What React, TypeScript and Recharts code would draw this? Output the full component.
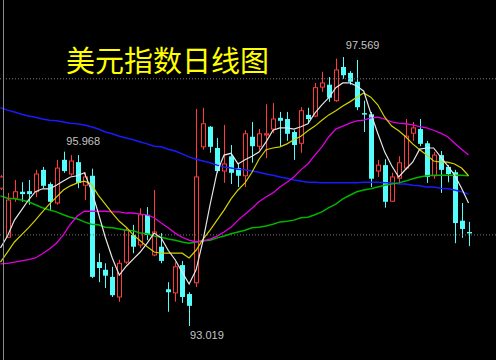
import React from 'react';
import { ComposedChart, Bar, Line, XAxis, YAxis, ReferenceLine, ReferenceDot } from 'recharts';

// trading days shown, -1 is the half-cut candle on the left edge, the last 4 are empty room
const days = Array.from({ length: 72 }, (_, i) => i - 1);

const opens = [
  95.35, 94.52, 95.18, 95.29, 95.30, 95.29, 95.66, 95.42, 95.10, 95.83, 95.59, 95.79, 95.40, 95.56,
  94.10, 93.97, 93.85, 93.51, 94.10, 94.56, 94.39, 94.90, 94.22, 94.36, 93.64, 93.58, 94.05, 93.56,
  93.75, 96.05, 96.39, 96.03, 95.64, 95.89, 95.69, 95.56, 96.22, 96.06, 96.25, 96.35, 96.54, 96.52,
  96.30, 96.11, 96.59, 96.57, 97.06, 97.10, 96.83, 97.40, 97.30, 97.15, 96.62, 96.60, 95.64, 95.74,
  95.13, 95.52, 95.69, 96.28, 96.35, 96.11, 95.56, 95.91, 95.71, 95.62, 94.80, 94.61,
];
const highs = [
  95.57, 95.27, 95.49, 95.45, 95.49, 95.66, 95.71, 95.45, 95.83, 95.968, 95.91, 95.91, 95.62, 95.68,
  94.25, 94.08, 94.02, 94.14, 94.69, 94.73, 95.01, 95.03, 95.32, 94.59, 93.76, 94.10, 94.12, 93.59,
  96.69, 96.71, 96.40, 96.20, 96.42, 96.08, 95.78, 96.33, 96.47, 96.35, 96.77, 96.79, 96.64, 96.64,
  96.33, 96.72, 96.71, 97.13, 97.32, 97.23, 97.54, 97.569, 97.33, 97.52, 96.83, 96.64, 95.83, 95.84,
  95.61, 95.89, 96.52, 96.47, 96.52, 96.15, 95.96, 95.98, 95.74, 95.66, 95.10, 94.78,
];
const lows = [
  95.32, 94.51, 95.12, 95.12, 95.07, 95.20, 95.35, 94.98, 95.07, 95.61, 95.56, 95.35, 95.15, 93.83,
  93.76, 93.66, 93.51, 93.43, 94.07, 94.25, 94.34, 94.47, 94.20, 94.08, 93.26, 93.43, 93.41, 93.019,
  93.68, 96.00, 95.95, 95.61, 95.44, 95.42, 95.37, 95.37, 95.78, 96.00, 95.86, 96.28, 96.06, 96.15,
  95.83, 95.95, 96.44, 96.55, 96.98, 96.81, 96.81, 97.20, 97.10, 96.67, 96.30, 95.37, 95.54, 95.02,
  95.12, 95.42, 95.66, 96.15, 96.06, 95.44, 95.51, 95.27, 95.45, 94.42, 94.51, 94.37,
];
const closes = [
  95.54, 95.15, 95.29, 95.25, 95.25, 95.59, 95.39, 95.12, 95.69, 95.64, 95.81, 95.44, 95.54, 93.85,
  94.00, 93.87, 93.54, 94.08, 94.64, 94.36, 94.90, 94.56, 94.61, 94.12, 93.59, 94.02, 93.51, 93.36,
  95.54, 96.44, 96.05, 95.64, 95.76, 95.61, 95.56, 96.27, 96.06, 96.27, 96.27, 96.52, 96.49, 96.27,
  96.08, 96.66, 96.52, 97.05, 97.13, 96.88, 97.35, 97.26, 97.15, 96.72, 96.60, 95.51, 95.74, 95.12,
  95.54, 95.78, 96.23, 96.37, 96.10, 95.54, 95.91, 95.66, 95.59, 94.76, 94.66, 94.59,
];

// moving averages
const ma5 = [
  94.34, 94.54, 94.81, 94.98, 95.15, 95.29, 95.34, 95.34, 95.40, 95.47, 95.54, 95.56, 95.61, 95.32,
  94.93, 94.52, 94.17, 93.88, 94.03, 94.15, 94.27, 94.42, 94.59, 94.51, 94.30, 94.14, 93.93, 93.73,
  93.97, 94.47, 95.07, 95.62, 95.91, 95.94, 95.76, 95.83, 95.89, 95.96, 96.13, 96.33, 96.37, 96.37,
  96.35, 96.39, 96.44, 96.62, 96.76, 96.88, 97.05, 97.13, 97.13, 97.08, 96.99, 96.62, 96.28, 95.96,
  95.73, 95.54, 95.67, 95.79, 96.01, 96.03, 96.03, 95.88, 95.73, 95.57, 95.35, 95.10,
];
const ma10 = [
  94.10, 94.27, 94.44, 94.56, 94.68, 94.81, 94.95, 95.08, 95.20, 95.32, 95.39, 95.44, 95.47, 95.42,
  95.23, 95.08, 94.93, 94.79, 94.69, 94.56, 94.46, 94.36, 94.27, 94.25, 94.25, 94.25, 94.25, 94.17,
  94.30, 94.49, 94.64, 94.81, 94.98, 95.17, 95.32, 95.44, 95.62, 95.84, 96.00, 96.03, 96.05, 96.10,
  96.17, 96.23, 96.32, 96.40, 96.50, 96.59, 96.66, 96.74, 96.81, 96.89, 96.96, 96.89, 96.76, 96.55,
  96.40, 96.32, 96.22, 96.10, 96.00, 95.91, 95.81, 95.79, 95.79, 95.76, 95.69, 95.56,
];
const ma20 = [
  94.07, 94.08, 94.10, 94.12, 94.14, 94.17, 94.24, 94.32, 94.42, 94.56, 94.74, 94.88, 94.96, 94.96,
  94.96, 94.96, 94.95, 94.95, 94.93, 94.93, 94.91, 94.90, 94.85, 94.76, 94.68, 94.59, 94.52, 94.47,
  94.44, 94.46, 94.49, 94.54, 94.61, 94.69, 94.81, 94.91, 95.01, 95.12, 95.20, 95.27, 95.37, 95.45,
  95.54, 95.66, 95.76, 95.91, 96.05, 96.22, 96.35, 96.40, 96.45, 96.49, 96.50, 96.54, 96.55, 96.52,
  96.47, 96.45, 96.44, 96.42, 96.39, 96.37, 96.33, 96.28, 96.22, 96.11, 96.01, 95.91,
];
const ma60 = [
  95.22, 95.18, 95.17, 95.15, 95.12, 95.07, 95.02, 94.98, 94.95, 94.90, 94.86, 94.83, 94.78, 94.74,
  94.73, 94.69, 94.68, 94.66, 94.64, 94.63, 94.59, 94.58, 94.54, 94.52, 94.49, 94.47, 94.44, 94.42,
  94.44, 94.46, 94.47, 94.51, 94.54, 94.58, 94.61, 94.64, 94.68, 94.69, 94.71, 94.74, 94.78, 94.79,
  94.81, 94.85, 94.86, 94.90, 94.95, 95.02, 95.08, 95.17, 95.23, 95.29, 95.32, 95.34, 95.37, 95.40,
  95.42, 95.44, 95.47, 95.51, 95.54, 95.56, 95.57, 95.57, 95.57, 95.57, 95.57, 95.56,
];
const ma120 = [
  96.71, 96.67, 96.64, 96.60, 96.57, 96.55, 96.52, 96.50, 96.49, 96.47, 96.45, 96.44, 96.42, 96.39,
  96.35, 96.30, 96.27, 96.23, 96.20, 96.17, 96.13, 96.10, 96.06, 96.05, 96.01, 95.98, 95.93, 95.88,
  95.84, 95.81, 95.78, 95.74, 95.71, 95.69, 95.67, 95.66, 95.64, 95.62, 95.59, 95.57, 95.54, 95.52,
  95.49, 95.47, 95.45, 95.45, 95.44, 95.44, 95.44, 95.44, 95.44, 95.44, 95.45, 95.45, 95.45, 95.44,
  95.44, 95.42, 95.42, 95.40, 95.39, 95.37, 95.37, 95.35, 95.34, 95.32, 95.29, 95.25,
];

const rows = days.map((day, i) => ({
  day,
  open: opens[i],
  high: highs[i],
  low: lows[i],
  close: closes[i],
  ma5: ma5[i],
  ma10: ma10[i],
  ma20: ma20[i],
  ma60: ma60[i],
  ma120: ma120[i],
}));

const UP = '#ff3b3b';
const DOWN = '#54fcfc';

const Candle = (props: any) => {
  const { x, y, width, height, payload } = props;
  if (!payload || payload.open == null) return null;
  const { open, close, high, low } = payload;
  const top = Math.min(y, y + height);
  const h = Math.abs(height);
  const k = h / (high - low);
  const c = Math.round(x + width / 2);
  const bodyTop = top + (high - Math.max(open, close)) * k;
  const bodyBot = top + (high - Math.min(open, close)) * k;
  const up = close >= open;
  const col = up ? UP : DOWN;
  if (up) {
    return (
      <g>
        <line x1={c + 0.5} x2={c + 0.5} y1={top} y2={bodyTop} stroke={col} />
        <line x1={c + 0.5} x2={c + 0.5} y1={bodyBot} y2={top + h} stroke={col} />
        <rect x={c - 1.5} y={bodyTop} width={4} height={Math.max(bodyBot - bodyTop, 1)} fill="#000" stroke={col} />
      </g>
    );
  }
  return (
    <g>
      <line x1={c + 0.5} x2={c + 0.5} y1={top} y2={top + h} stroke={col} />
      <rect x={c - 2} y={bodyTop} width={5} height={Math.max(bodyBot - bodyTop, 1.5)} fill={col} />
    </g>
  );
};

const priceLabel = (text: string, dx: number, dy: number) => (p: any) => (
  <text x={p.cx + dx} y={p.cy + dy} fill="#c4c4c4" fontSize={11} fontFamily="'Liberation Sans', Arial, sans-serif">
    {text}
  </text>
);

export default function App() {
  return (
    <div style={{ position: 'absolute', left: 0, top: 0, width: 496, height: 360, background: '#000', overflow: 'hidden' }}>
      <div style={{ position: 'absolute', left: -3.49, top: 0 }}>
        <ComposedChart width={503} height={360} data={rows} margin={{ top: 0, right: 0, bottom: 0, left: 0 }}>
          <XAxis dataKey="day" type="category" hide />
          <YAxis type="number" domain={[92.444, 98.533]} hide allowDataOverflow />
          <ReferenceLine y={97.2} stroke="#777" strokeDasharray="1 2" />
          <ReferenceLine y={94.56} stroke="#777" strokeDasharray="1 2" />
          <Bar dataKey={(d: any) => (d.open == null ? null : [d.low, d.high])} shape={Candle} activeBar={false} isAnimationActive={false} />
          <Line dataKey="ma120" stroke="#1a1aff" strokeWidth={1.5} dot={false} activeDot={false} isAnimationActive={false} />
          <Line dataKey="ma60" stroke="#00b400" strokeWidth={1.5} dot={false} activeDot={false} isAnimationActive={false} />
          <Line dataKey="ma20" stroke="#e000e0" strokeWidth={1.3} dot={false} activeDot={false} isAnimationActive={false} />
          <Line dataKey="ma10" stroke="#d2d200" strokeWidth={1.2} dot={false} activeDot={false} isAnimationActive={false} />
          <Line dataKey="ma5" stroke="#e6e6e6" strokeWidth={1.2} dot={false} activeDot={false} isAnimationActive={false} />
          <ReferenceDot x={8} y={95.968} r={0} shape={priceLabel('95.968', 3, -7)} />
          <ReferenceDot x={48} y={97.569} r={0} shape={priceLabel('97.569', 3, -8)} />
          <ReferenceDot x={26} y={93.019} r={0} shape={priceLabel('93.019', 1, 13)} />
        </ComposedChart>
      </div>
      <div style={{ position: 'absolute', left: 3, top: 0, width: 1, height: 360, background: '#8a8a8a' }} />
      <div
        style={{
          position: 'absolute',
          left: 66,
          top: 45,
          fontSize: 29,
          lineHeight: '29px',
          color: '#ffff00',
          fontFamily: "'Noto Sans CJK SC', sans-serif",
          whiteSpace: 'nowrap',
        }}
      >
        美元指数日线图
      </div>
    </div>
  );
}
